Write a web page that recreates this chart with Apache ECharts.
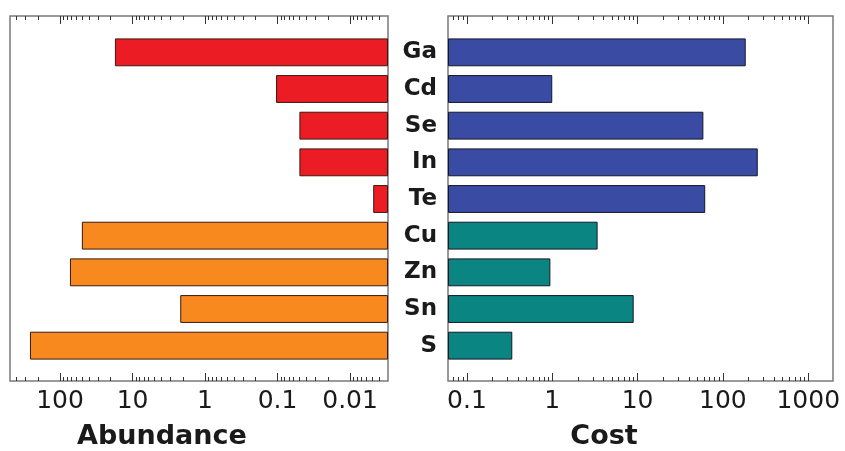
<!DOCTYPE html>
<html>
<head>
<meta charset="utf-8">
<script src="https://cdn.jsdelivr.net/npm/echarts@6/dist/echarts.min.js"></script>
<style>
  html, body { margin: 0; padding: 0; background: #fff; }
  #chart { width: 845px; height: 451px; }
</style>
</head>
<body>
<div id="chart"></div>
<script>
// values
const elements = ['Ga', 'Cd', 'Se', 'In', 'Te', 'Cu', 'Zn', 'Sn', 'S']
const abundance = [17.5, 0.105, 0.05, 0.05, 0.0048, 50, 73, 2.2, 260]
const cost = [185, 1, 59, 256, 62, 3.4, 0.95, 9, 0.34]
const abundanceTicks = [100, 10, 1, 0.1, 0.01]
const costTicks = [0.1, 1, 10, 100, 1000]
const abundanceColors = ['#ec1c24', '#ec1c24', '#ec1c24', '#ec1c24', '#ec1c24', '#f7891f', '#f7891f', '#f7891f', '#f7891f']
const costColors = ['#3a4ba4', '#3a4ba4', '#3a4ba4', '#3a4ba4', '#3a4ba4', '#0a8581', '#0a8581', '#0a8581', '#0a8581']
const abundanceRange = [0.003, 490]
const costRange = [0.06, 1950]

const FONT = 'DejaVu Sans'
const frameColor = '#7a7a7a'

// minor log ticks 2..9 x 10^k inside the range
function minorTicks (range) {
  const out = []
  for (let k = Math.floor(Math.log10(range[0])); k <= Math.ceil(Math.log10(range[1])); k++) {
    for (let m = 2; m <= 9; m++) {
      const v = Number((m * Math.pow(10, k)).toPrecision(6))
      if (v > range[0] && v < range[1]) out.push(v)
    }
  }
  return out
}

function frameAxes (gridIndex, range, inverse, majors) {
  const minors = minorTicks(range)
  const base = {
    type: 'log',
    gridIndex: gridIndex,
    min: range[0],
    max: range[1],
    inverse: inverse,
    axisLine: { show: false },
    splitLine: { show: false },
    minorTick: { show: false }
  }
  const tickStyle = { color: '#333', width: 1 }
  return [
    Object.assign({}, base, {
      position: 'bottom',
      axisTick: { show: true, inside: true, length: 8, customValues: majors, lineStyle: tickStyle },
      axisLabel: {
        show: true,
        customValues: majors,
        margin: 8,
        fontSize: 25,
        fontFamily: FONT,
        color: '#1a1a1a',
        formatter: v => String(Number(Number(v).toPrecision(6)))
      }
    }),
    Object.assign({}, base, {
      position: 'bottom',
      axisTick: { show: true, inside: true, length: 4, customValues: minors, lineStyle: tickStyle },
      axisLabel: { show: false }
    }),
    Object.assign({}, base, {
      position: 'top',
      axisTick: { show: true, inside: true, length: 8, customValues: majors, lineStyle: tickStyle },
      axisLabel: { show: false }
    }),
    Object.assign({}, base, {
      position: 'top',
      axisTick: { show: true, inside: true, length: 4, customValues: minors, lineStyle: tickStyle },
      axisLabel: { show: false }
    })
  ]
}

const chart = echarts.init(document.getElementById('chart'), null, { renderer: 'canvas' })

const option = {
  animation: false,
  backgroundColor: '#fff',
  grid: [
    { left: 10, width: 378, top: 34, height: 330 },
    { left: 448, width: 385, top: 34, height: 330 },
    { left: 10, width: 378, top: 16, height: 365, show: true, borderColor: frameColor, borderWidth: 1.5, backgroundColor: 'transparent' },
    { left: 448, width: 385, top: 16, height: 365, show: true, borderColor: frameColor, borderWidth: 1.5, backgroundColor: 'transparent' }
  ],
  xAxis: [
    { type: 'log', gridIndex: 0, min: abundanceRange[0], max: abundanceRange[1], startValue: abundanceRange[0], inverse: true, show: false },
    { type: 'log', gridIndex: 1, min: costRange[0], max: costRange[1], startValue: costRange[0], show: false }
  ].concat(frameAxes(2, abundanceRange, true, abundanceTicks), frameAxes(3, costRange, false, costTicks)),
  yAxis: [
    { type: 'category', gridIndex: 0, data: elements, inverse: true, show: false },
    {
      type: 'category',
      gridIndex: 1,
      data: elements,
      inverse: true,
      axisLine: { show: false },
      axisTick: { show: false },
      axisLabel: { margin: 11, fontSize: 23, fontWeight: 'bold', fontFamily: FONT, color: '#1a1a1a' }
    },
    { type: 'value', gridIndex: 2, show: false },
    { type: 'value', gridIndex: 3, show: false }
  ],
  series: [
    {
      type: 'bar',
      xAxisIndex: 0,
      yAxisIndex: 0,
      barWidth: '76%',
      data: abundance.map((v, i) => ({ value: v, itemStyle: { color: abundanceColors[i] } })),
      itemStyle: { borderColor: '#3a1a10', borderWidth: 1 }
    },
    {
      type: 'bar',
      xAxisIndex: 1,
      yAxisIndex: 1,
      barWidth: '76%',
      data: cost.map((v, i) => ({ value: v, itemStyle: { color: costColors[i] } })),
      itemStyle: { borderColor: '#14182a', borderWidth: 1 }
    }
  ],
  graphic: [
    { type: 'text', x: 162, y: 437, style: { text: 'Abundance', font: 'bold 27px "DejaVu Sans"', fill: '#1a1a1a', align: 'center', verticalAlign: 'middle' } },
    { type: 'text', x: 604, y: 437, style: { text: 'Cost', font: 'bold 27px "DejaVu Sans"', fill: '#1a1a1a', align: 'center', verticalAlign: 'middle' } }
  ]
}

chart.setOption(option)
</script>
</body>
</html>
